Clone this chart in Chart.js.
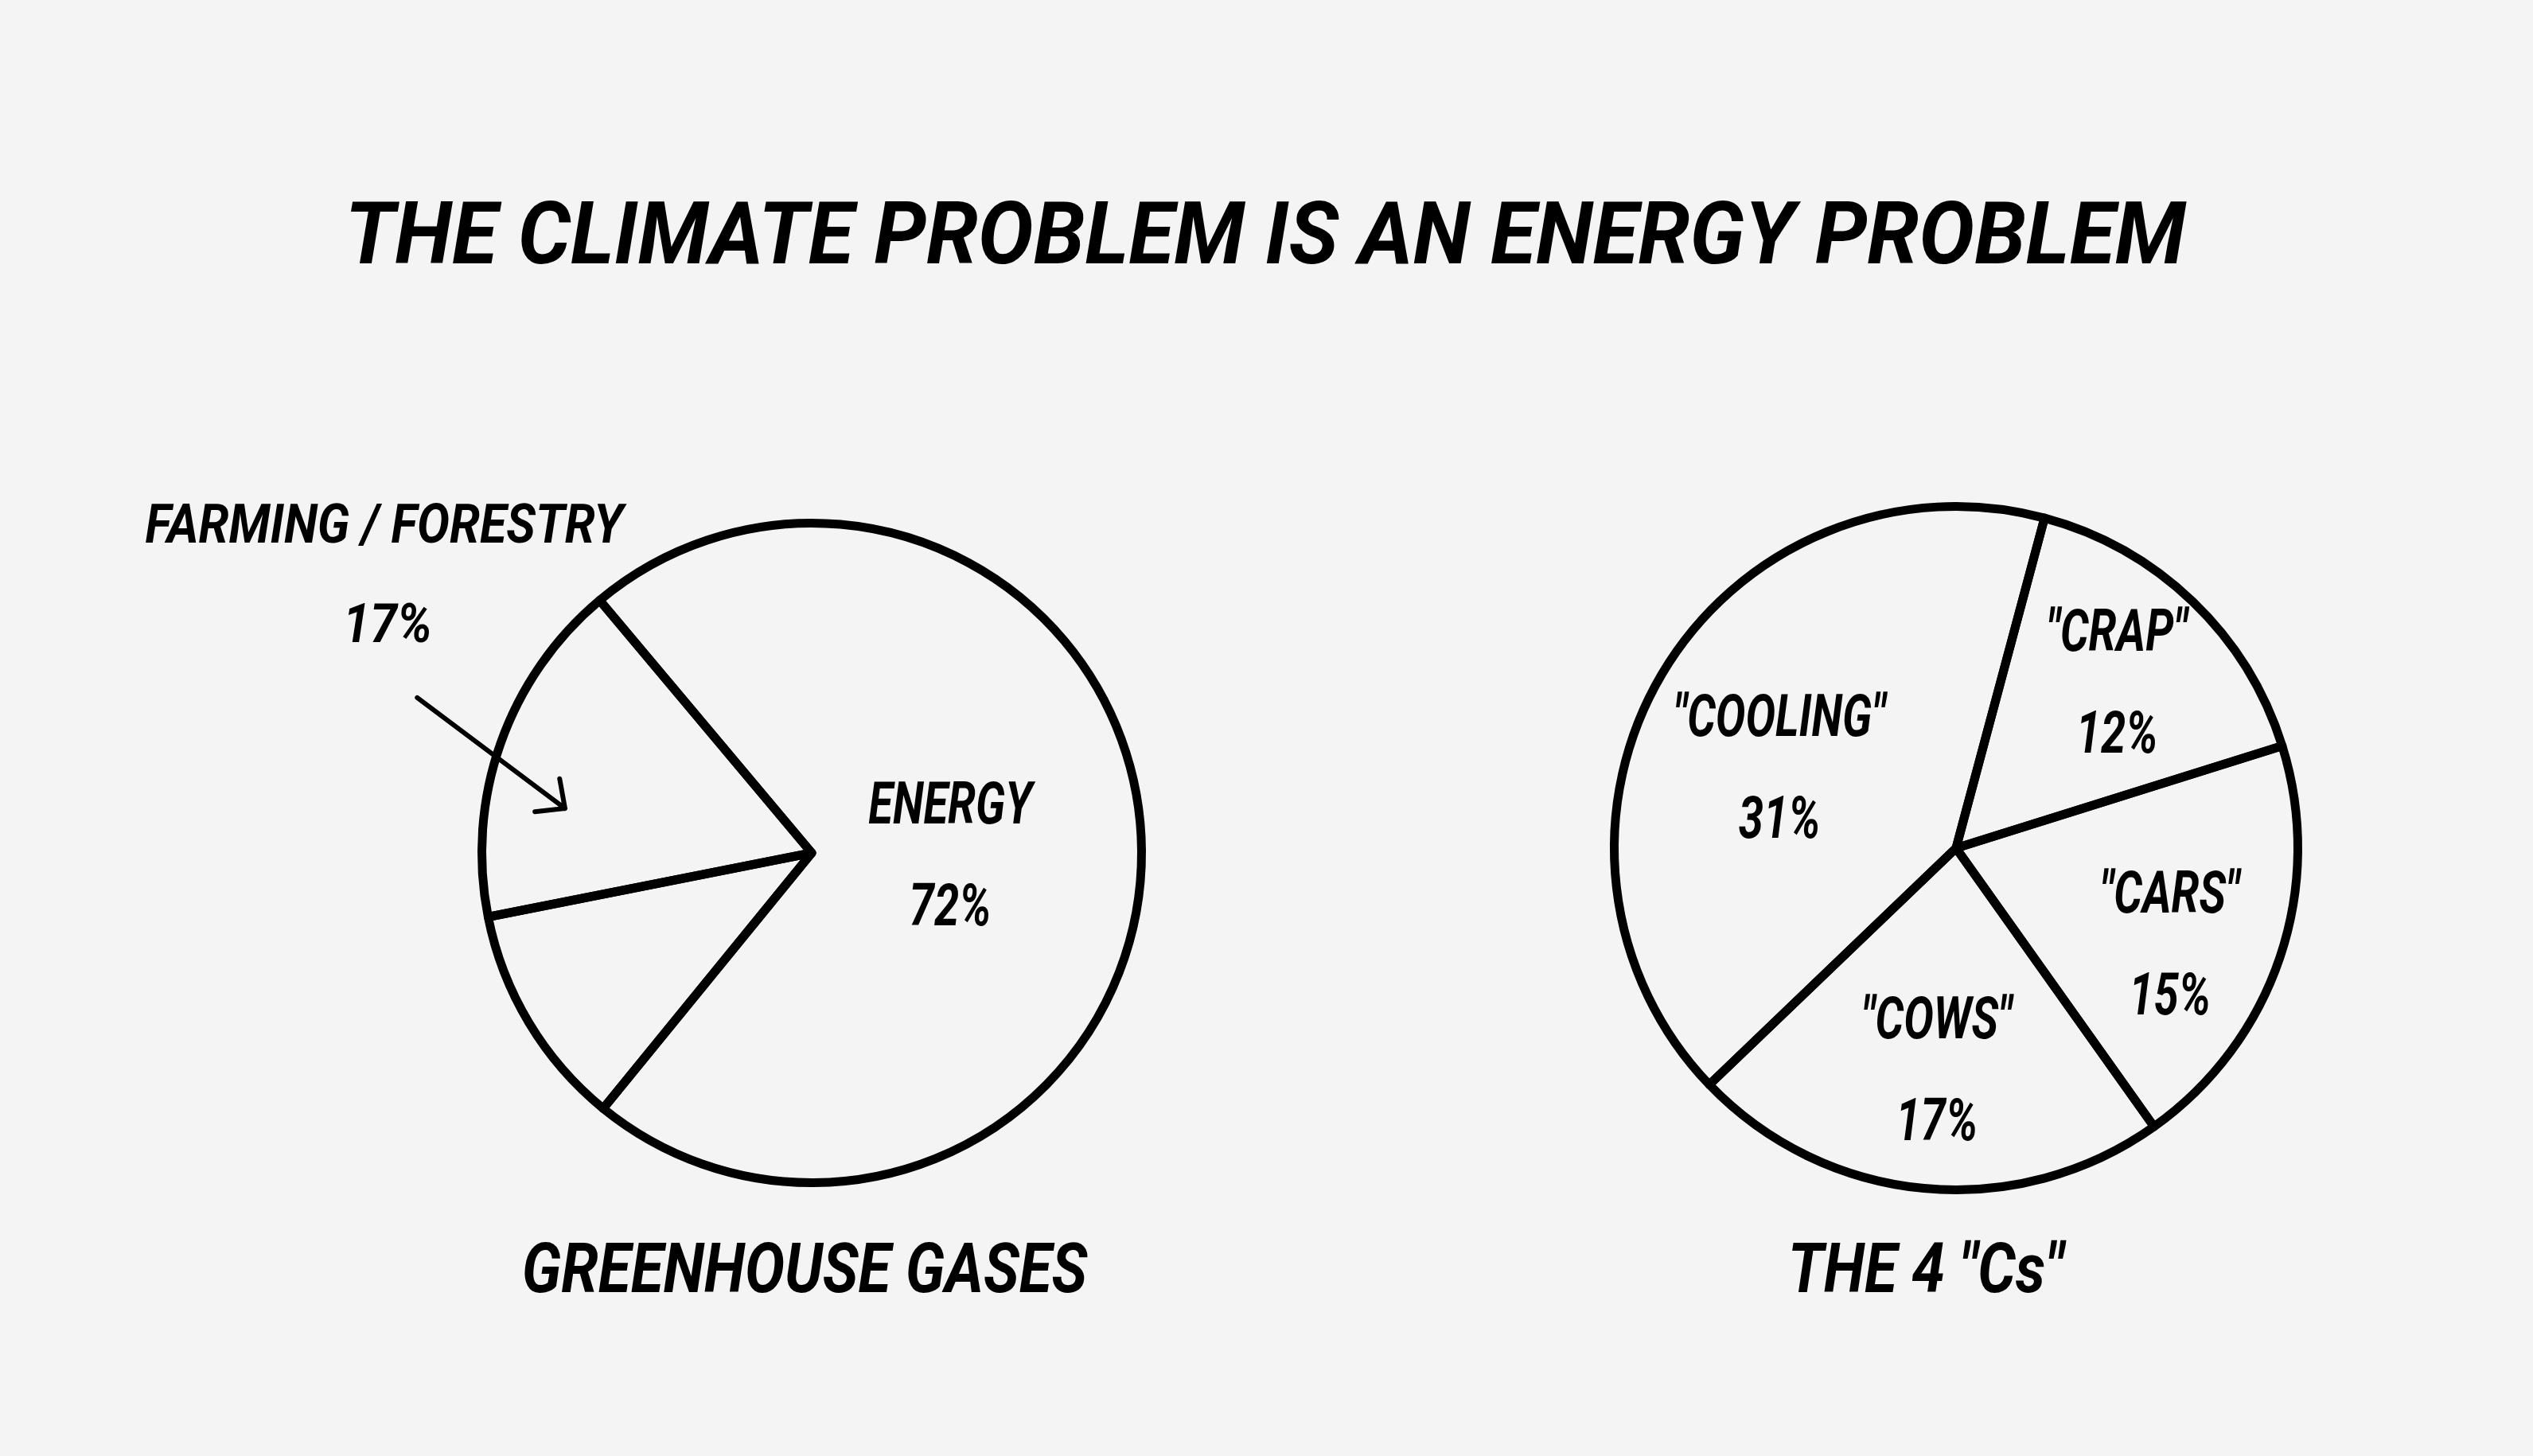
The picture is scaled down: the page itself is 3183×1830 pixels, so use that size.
<!DOCTYPE html>
<html>
<head>
<meta charset="utf-8">
<script src="https://cdn.jsdelivr.net/npm/chart.js@4.4.0/dist/chart.umd.min.js"></script>
<style>
  html, body { margin: 0; padding: 0; background: #f4f4f4; }
  body { width: 3183px; height: 1830px; position: relative; overflow: hidden;
         font-family: Roboto, "Open Sans", sans-serif; color: #000; }
  .txt { position: absolute; white-space: nowrap; font-weight: 700; font-style: italic;
         line-height: 1; transform: translate(-50%, -50%) scaleX(0.86); }
  #title { left: 1590px; top: 294px; font-size: 110px; transform: translate(-50%, -50%) scaleX(0.95); }
  #sub-ghg { left: 1011px; top: 1594px; font-size: 87px; }
  #sub-cs  { left: 2420px; top: 1594px; font-size: 87px; }
  .box { position: absolute; }
  #box-ghg { left: 0; top: 560px; width: 1600px; height: 1000px; }
  #box-cs  { left: 1900px; top: 560px; width: 1100px; height: 1000px; }
</style>
</head>
<body>
<div id="title" class="txt">THE CLIMATE PROBLEM IS AN ENERGY PROBLEM</div>
<div id="sub-ghg" class="txt">GREENHOUSE GASES</div>
<div id="sub-cs" class="txt">THE 4 "Cs"</div>
<div id="box-ghg" class="box"><canvas id="c-ghg"></canvas></div>
<div id="box-cs" class="box"><canvas id="c-cs"></canvas></div>

<script>
// ── DATA ──────────────────────────────────────────────────────
// Greenhouse gases: energy vs farming/forestry (remaining slice unlabelled)
const ghgLabels = ['ENERGY', '', 'FARMING / FORESTRY'];
const ghgValues = [72, 11, 17];

// The 4 "Cs", clockwise from the top
const csLabels = ['"CRAP"', '"CARS"', '"COWS"', '"COOLING"'];
const csValues = [12, 15, 17, 31];

// ── SHARED STYLE ──────────────────────────────────────────────
const ink = '#000';
const labelFont = 'italic 700 74px Roboto, "Open Sans", sans-serif';
const calloutFont = 'italic 700 68px Roboto, "Open Sans", sans-serif';

function say(ctx, text, x, y, font, squeeze) {
  ctx.save();
  ctx.font = font || labelFont;
  ctx.fillStyle = ink;
  ctx.textAlign = 'center';
  ctx.textBaseline = 'middle';
  ctx.translate(x, y);
  ctx.scale(squeeze || 0.76, 1);   // hand lettering is narrow
  ctx.fillText(text, 0, 0);
  ctx.restore();
}

// slice names + percentages, written inside the slice (or with an arrow)
const sliceText = {
  id: 'sliceText',
  afterDatasetsDraw(chart, args, opts) {
    const ctx = chart.ctx;
    const labels = chart.data.labels;
    const values = chart.data.datasets[0].data;
    chart.getDatasetMeta(0).data.forEach((arc, i) => {
      if (!labels[i]) return;
      const p = arc.getProps(['x', 'y', 'startAngle', 'endAngle', 'outerRadius'], true);
      const mid = (p.startAngle + p.endAngle) / 2;
      const r = p.outerRadius;
      const pct = values[i] + '%';

      if (opts.callout === i) {
        // arrow from outside, pointing into the lower part of the slice
        const aim = p.startAngle + 0.35 * (p.endAngle - p.startAngle);
        const tip = { x: p.x + Math.cos(aim) * r * 0.76, y: p.y + Math.sin(aim) * r * 0.76 };
        const tail = { x: tip.x - 0.8 * 0.56 * r, y: tip.y - 0.6 * 0.56 * r };
        ctx.save();
        ctx.strokeStyle = ink;
        ctx.lineWidth = 6;
        ctx.lineCap = 'round';
        ctx.beginPath();
        ctx.moveTo(tail.x, tail.y);
        ctx.lineTo(tip.x, tip.y);
        const back = Math.atan2(tail.y - tip.y, tail.x - tip.x);
        [0.75, -0.75].forEach(a => {
          ctx.moveTo(tip.x, tip.y);
          ctx.lineTo(tip.x + Math.cos(back + a) * 38, tip.y + Math.sin(back + a) * 38);
        });
        ctx.stroke();
        ctx.restore();
        say(ctx, pct, tail.x - 0.09 * r, tail.y - 0.21 * r, calloutFont, 0.9);
        say(ctx, labels[i], tail.x - 0.10 * r, tail.y - 0.51 * r, calloutFont, 0.9);
        return;
      }

      const f = (opts.reach && opts.reach[i]) || 0.6;
      const dy = (opts.drop && opts.drop[i]) || 0;
      const cx = p.x + Math.cos(mid) * r * f;
      const cy = p.y + Math.sin(mid) * r * f + dy;
      say(ctx, labels[i], cx, cy - 64);
      say(ctx, pct, cx, cy + 64);
    });
  }
};

const base = {
  responsive: true,
  maintainAspectRatio: false,
  animation: false,
  events: [],
  plugins: { legend: { display: false }, tooltip: { enabled: false } }
};

const outline = {
  backgroundColor: 'rgba(0,0,0,0)',
  borderColor: ink,
  borderWidth: 11,
  borderJoinStyle: 'round',
  hoverOffset: 0
};

// ── 1. GREENHOUSE GASES ───────────────────────────────────────
new Chart(document.getElementById('c-ghg'), {
  type: 'pie',
  data: { labels: ghgLabels, datasets: [{ data: ghgValues, ...outline }] },
  options: {
    ...base,
    rotation: -40,
    layout: { padding: { left: 600, right: 160, top: 92, bottom: 68 } },
    plugins: { ...base.plugins, sliceText: { callout: 2, reach: [0.42], drop: [10] } }
  },
  plugins: [sliceText]
});

// ── 2. THE 4 "Cs" ─────────────────────────────────────────────
new Chart(document.getElementById('c-cs'), {
  type: 'pie',
  data: { labels: csLabels, datasets: [{ data: csValues, ...outline }] },
  options: {
    ...base,
    rotation: 15,
    layout: { padding: { left: 123, right: 107, top: 71, bottom: 59 } },
    plugins: { ...base.plugins, sliceText: { reach: [0.68, 0.66, 0.6, 0.6], drop: [8, 36, 28, 36] } }
  },
  plugins: [sliceText]
});
</script>
</body>
</html>
